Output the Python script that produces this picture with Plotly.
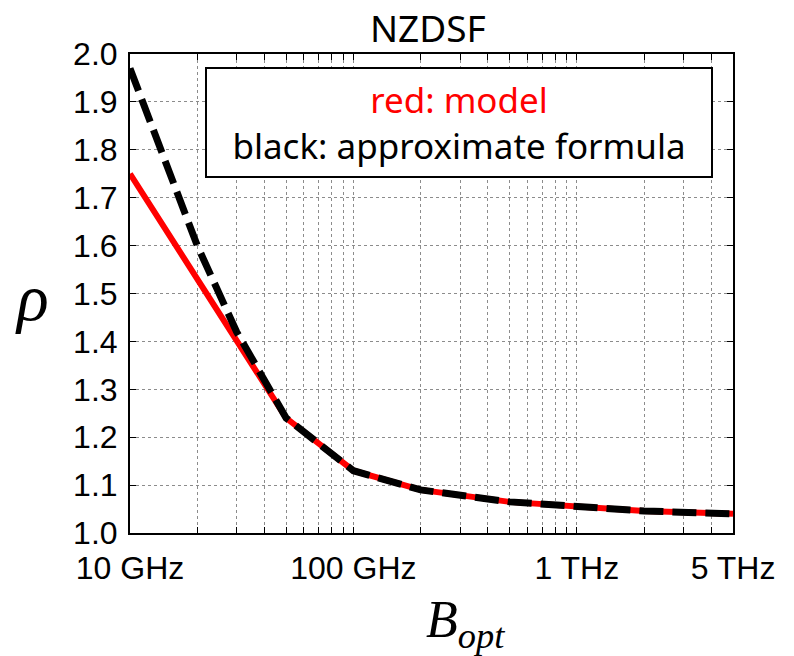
import plotly.graph_objects as go
import numpy as np

# Data (bandwidth in GHz, rho)
model_bw = [10, 50, 100, 200, 500, 1000, 2000, 5000]
model_rho = [1.75, 1.24, 1.13, 1.09, 1.065, 1.055, 1.046, 1.04]
approx_bw = [10, 20, 30, 40, 50, 100, 200, 500, 1000, 2000, 5000]
approx_rho = [1.97, 1.60, 1.42, 1.315, 1.24, 1.13, 1.09, 1.065, 1.055, 1.046, 1.04]

x_tick_vals = [10, 20, 30, 40, 50, 60, 70, 80, 90,
               100, 200, 300, 400, 500, 600, 700, 800, 900,
               1000, 2000, 3000, 4000, 5000]
x_labels = {10: "10 GHz", 100: "100 GHz", 1000: "1 THz", 5000: "5 THz"}
x_tick_text = [x_labels.get(v, "") for v in x_tick_vals]
y_tick_vals = [1.0, 1.1, 1.2, 1.3, 1.4, 1.5, 1.6, 1.7, 1.8, 1.9, 2.0]
y_tick_text = ["%.1f" % v for v in y_tick_vals]

fig = go.Figure()
fig.add_trace(go.Scatter(x=model_bw, y=model_rho, mode="lines",
                         line=dict(color="#ff0000", width=6), showlegend=False))
fig.add_trace(go.Scatter(x=approx_bw, y=approx_rho, mode="lines",
                         line=dict(color="black", width=7, dash="24px,9px"),
                         showlegend=False))

axis_common = dict(showline=True, linecolor="black", linewidth=2, mirror="allticks",
                   ticks="inside", ticklen=6, tickcolor="black", tickwidth=1,
                   showgrid=True, gridcolor="#8c8c8c", griddash="dot", gridwidth=1,
                   zeroline=False,
                   tickfont=dict(family="Liberation Sans, Arial", size=32, color="black"))

fig.update_xaxes(type="log", range=[1, np.log10(5000)], tickmode="array",
                 tickvals=x_tick_vals, ticktext=x_tick_text, ticklabelstandoff=6,
                 **axis_common)
fig.update_yaxes(range=[1.0, 2.0], tickmode="array", tickvals=y_tick_vals,
                 ticktext=y_tick_text, ticklabelstandoff=4, **axis_common)

fig.add_annotation(xref="paper", yref="paper", x=0.495, y=1.0, yshift=27,
                   xanchor="center", yanchor="middle",
                   text="NZDSF", showarrow=False,
                   font=dict(family="Noto Sans", size=37, color="black"))
fig.add_annotation(xref="x", yref="y", x=1.336, y=1.857,
                   text="<span style='color:#ff0000'>red: model</span><br>black: approximate formula",
                   showarrow=False, align="center",
                   font=dict(family="Noto Sans", size=35, color="black"),
                   bgcolor="white", bordercolor="black", borderwidth=2, borderpad=6,
                   width=492, height=95, xanchor="left", yanchor="middle")
fig.add_annotation(xref="paper", yref="paper", x=-0.163, y=0.5, yshift=-4,
                   xanchor="center", yanchor="middle",
                   text="<i>ρ</i>", showarrow=False,
                   font=dict(family="Liberation Serif", size=66, color="black"))
fig.add_annotation(xref="paper", yref="paper", x=0.556, y=0, yshift=-90,
                   xanchor="center", yanchor="middle",
                   text="<i>B</i><sub><i>opt</i></sub>", showarrow=False,
                   font=dict(family="Liberation Serif", size=52, color="black"))

fig.update_layout(width=794, height=656, margin=dict(l=130, r=61, t=54, b=123),
                  plot_bgcolor="white", paper_bgcolor="white")

fig.write_html("out.html")
